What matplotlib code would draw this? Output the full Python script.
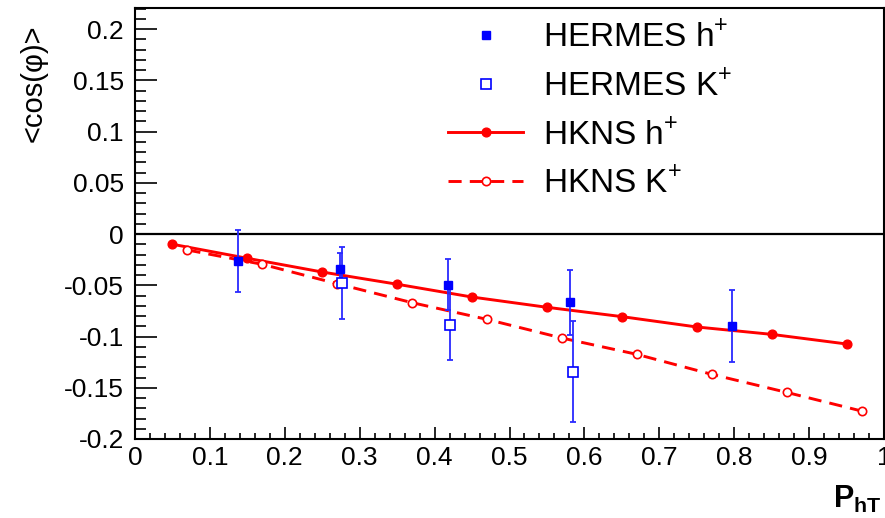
import matplotlib
matplotlib.use('Agg')
import matplotlib.pyplot as plt
from matplotlib.ticker import MultipleLocator, FuncFormatter
import numpy as np

plt.rcParams['font.family'] = ['Liberation Sans', 'DejaVu Sans']
plt.rcParams['mathtext.fontset'] = 'custom'
plt.rcParams['mathtext.rm'] = 'Liberation Sans'
plt.rcParams['mathtext.bf'] = 'Liberation Sans:bold'

# HKNS curves
hkns_h_x = [0.05, 0.15, 0.25, 0.35, 0.45, 0.55, 0.65, 0.75, 0.85, 0.95]
hkns_h_y = [-0.010, -0.0237, -0.0371, -0.049, -0.0615, -0.0715, -0.0806, -0.0907, -0.0979, -0.1073]
hkns_k_x = [0.07, 0.17, 0.27, 0.37, 0.47, 0.57, 0.67, 0.77, 0.87, 0.97]
hkns_k_y = [-0.0156, -0.0296, -0.0485, -0.067, -0.0833, -0.1015, -0.1174, -0.1369, -0.1545, -0.1727]

# HERMES data
hermes_h_x = [0.137, 0.274, 0.4175, 0.5808, 0.7975]
hermes_h_y = [-0.0263, -0.0345, -0.0494, -0.0667, -0.0901]
hermes_h_err = [0.0300, 0.0156, 0.0250, 0.0316, 0.0350]
hermes_k_x = [0.2764, 0.420, 0.585]
hermes_k_y = [-0.048, -0.0885, -0.1343]
hermes_k_err = [0.0353, 0.0347, 0.049]

fig = plt.figure(figsize=(8.85, 5.18), dpi=100)
ax = fig.add_axes([135/885, 79/518, 749/885, 431/518])

ax.axhline(0, color='black', lw=1.6, zorder=1)

l1, = ax.plot(hkns_h_x, hkns_h_y, '-', color='red', lw=2.1, marker='o', ms=6.3,
              mfc='red', mec='red', zorder=3, label='HKNS h$^{+}$')
l2, = ax.plot(hkns_k_x, hkns_k_y, '--', color='red', lw=2.1, dashes=(4.5, 2.8), marker='o', ms=6,
              mfc='white', mec='red', mew=1.2, zorder=3, label='HKNS K$^{+}$')

ax.errorbar(hermes_h_x, hermes_h_y, yerr=hermes_h_err, fmt='none', ecolor='#2a2aff',
            elinewidth=1.3, capsize=2, capthick=1.3, zorder=4)
ax.errorbar(hermes_k_x, hermes_k_y, yerr=hermes_k_err, fmt='none', ecolor='#2a2aff',
            elinewidth=1.3, capsize=2, capthick=1.3, zorder=4)
p1, = ax.plot(hermes_h_x, hermes_h_y, 's', color='blue', ms=5.6, zorder=5,
              label='HERMES h$^{+}$')
p2, = ax.plot(hermes_k_x, hermes_k_y, 's', mfc='white', mec='blue', mew=1.2, ms=6.5, zorder=5,
              label='HERMES K$^{+}$')

ax.set_xlim(0, 1)
ax.set_ylim(-0.2, 0.2205)

ax.xaxis.set_major_locator(MultipleLocator(0.1))
ax.xaxis.set_minor_locator(MultipleLocator(0.02))
ax.yaxis.set_major_locator(MultipleLocator(0.05))
ax.yaxis.set_minor_locator(MultipleLocator(0.01))

def fmt(v, pos):
    s = '%g' % round(v, 3)
    return s

ax.xaxis.set_major_formatter(FuncFormatter(fmt))
ax.yaxis.set_major_formatter(FuncFormatter(fmt))

ax.tick_params(axis='both', which='both', direction='in', top=False, right=False,
               labelsize=19, width=1.2)
ax.tick_params(axis='y', which='major', length=15.5, pad=8)
ax.tick_params(axis='y', which='minor', length=8)
ax.tick_params(axis='x', which='major', length=8.5, pad=5)
ax.tick_params(axis='x', which='minor', length=4.3)

for sp in ax.spines.values():
    sp.set_linewidth(1.5)

ax.set_ylabel('<cos(φ)>', fontsize=21)
ax.yaxis.set_label_coords(-0.136, 0.962)
ax.yaxis.label.set_ha('right')
ax.yaxis.label.set_va('center')

fig.text(0.996, 0.005, r'$\mathbf{P}_{\mathbf{hT}}$', fontsize=22, ha='right', va='bottom')

leg = ax.legend(handles=[p1, p2, l1, l2], loc='upper left', bbox_to_anchor=(0.418, 0.968),
                frameon=False, fontsize=24, handlelength=2.25, handletextpad=0.6,
                labelspacing=0.5, borderpad=0, borderaxespad=0)

fig.savefig('out.png', dpi=100)
